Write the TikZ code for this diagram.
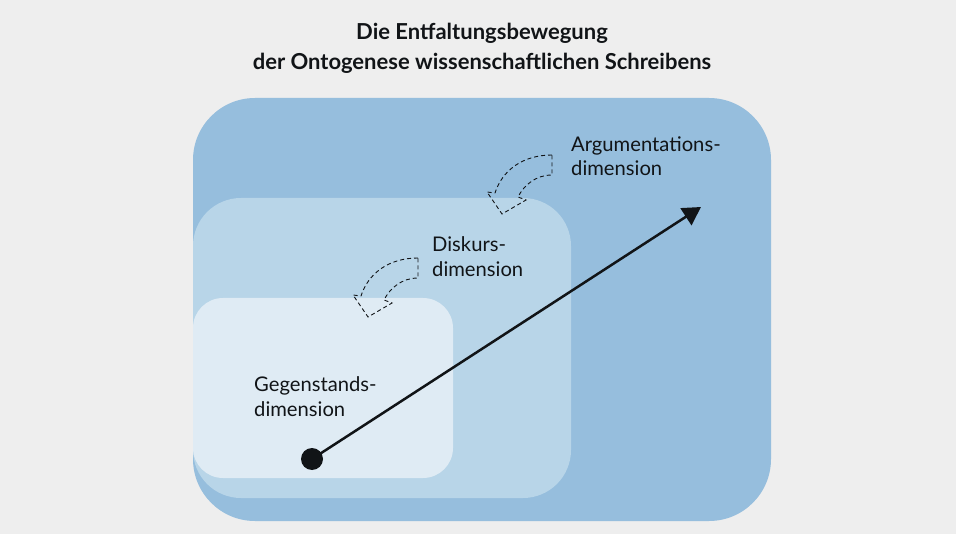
\documentclass[tikz,border=0pt]{standalone}
\usepackage{fontspec}
\setmainfont{Lato}
\usetikzlibrary{arrows.meta}
\definecolor{bgc}{HTML}{EEEEEE}
\definecolor{outerc}{HTML}{96BEDD}
\definecolor{midc}{HTML}{B8D5E8}
\definecolor{innerc}{HTML}{DFEBF4}
\definecolor{ink}{HTML}{111417}
\tikzset{
  lbl/.style={font=\fontsize{20.2}{24.5}\selectfont, align=left, anchor=base west, inner sep=0pt, text=ink},
  ttl/.style={font=\bfseries\fontsize{22}{30}\selectfont, align=center, anchor=base, inner sep=0pt, text=ink},
  curvarrow/.pic={
    \draw[ink, dashed, dash pattern=on 4pt off 3pt, line width=0.9pt, line join=miter]
      (0,0) .. controls (-30,0) and (-50,16) .. (-57,38)
      -- (-65,37) -- (-50,59) -- (-26,45) -- (-34,42)
      .. controls (-28,30) and (-16,20) .. (0,20) -- cycle;
  }
}
\begin{document}
\begin{tikzpicture}[x=1pt,y=-1pt]
\fill[bgc] (0,0) rectangle (956,534);
\useasboundingbox (0,0) rectangle (956,534);
\node[ttl] (title) at (482,69.5) {Die Entfaltungsbewegung\\der Ontogenese wissenschaftlichen Schreibens};
\fill[outerc, rounded corners=62pt] (193,98) rectangle (771,521);
\fill[midc, rounded corners=48pt] (193,198) rectangle (571,498);
\fill[innerc, rounded corners=30pt] (193,298) rectangle (453,478);
\node[lbl] (arg) at (571,176) {Argumentations-\\dimension};
\node[lbl] (disk) at (432,276.5) {Diskurs-\\dimension};
\node[lbl] (geg) at (254,416.5) {Gegenstands-\\dimension};
\pic at (552,155) {curvarrow};
\pic at (418,258) {curvarrow};
\node[circle, fill=ink, minimum size=22pt, inner sep=0pt] (dot) at (312,459) {};
\coordinate (tip) at (701,207);
\draw[ink, line width=2.5pt, -{Triangle[length=18pt,width=20pt]}] (dot.center) -- (tip);
\end{tikzpicture}
\end{document}
